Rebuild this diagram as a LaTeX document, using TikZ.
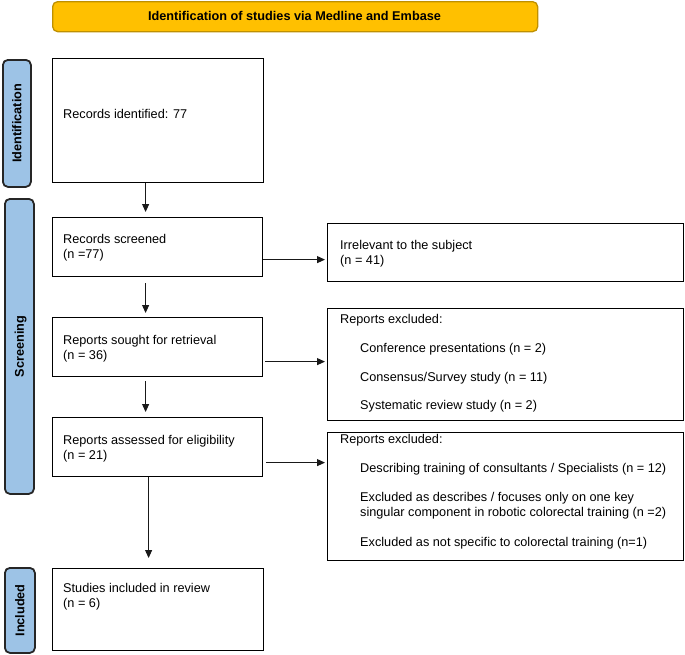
\documentclass[tikz,border=0pt]{standalone}
\usepackage{fontspec}
\setmainfont{Liberation Sans}
\usetikzlibrary{arrows.meta}
\definecolor{hdrfill}{HTML}{FFC000}
\definecolor{hdrline}{HTML}{BF9000}
\definecolor{lblfill}{HTML}{9DC3E6}
\definecolor{lblline}{HTML}{262626}
\newcommand\myfs{\fontsize{12.7}{14.5}\selectfont}
\begin{document}
\begin{tikzpicture}[x=1pt,y=-1pt,
  box/.style={draw=black, line width=1.2pt, fill=white, inner sep=0pt, anchor=north west},
  hdr/.style={draw=hdrline, line width=1.3pt, fill=hdrfill, rounded corners=5pt, inner sep=0pt, anchor=north west},
  lbl/.style={draw=lblline, line width=1.8pt, fill=lblfill, rounded corners=5pt, inner sep=0pt, anchor=north west},
  lbltxt/.style={rotate=90, font=\myfs\bfseries, inner sep=0pt, text height=9pt, text depth=0pt, anchor=center},
  txt/.style={anchor=base west, inner sep=0pt, font=\myfs},
  arr/.style={draw=black!90, line width=1pt, -{Triangle[length=8pt,width=7pt]}}
]
\useasboundingbox (0,0) rectangle (685,654);

% header
\node[hdr, minimum width=485pt, minimum height=30pt] (hdr) at (52,1) {};
\node[font=\myfs\bfseries, inner sep=0pt] (hdrtxt) at (294.5,15.8) {Identification of studies via Medline and Embase};

% side labels
\node[lbl, minimum width=28pt, minimum height=127pt] (idl) at (2,59) {};
\node[lbltxt] (idltxt) at (idl.center) {Identification};
\node[lbl, minimum width=29pt, minimum height=295pt] (scl) at (4,198) {};
\node[lbltxt] (scltxt) at (scl.center) {Screening};
\node[lbl, minimum width=30pt, minimum height=85pt] (inl) at (4,567) {};
\node[lbltxt] (inltxt) at (inl.center) {Included};

% boxes
\node[box, minimum width=211pt, minimum height=124pt] (rid) at (52,58) {};
\node[box, minimum width=210pt, minimum height=59pt] (rs) at (52,217) {};
\node[box, minimum width=356pt, minimum height=58pt] (irr) at (327,223) {};
\node[box, minimum width=210pt, minimum height=59pt] (rsr) at (52,317) {};
\node[box, minimum width=356pt, minimum height=112pt] (ex1) at (327,308) {};
\node[box, minimum width=210pt, minimum height=59pt] (rae) at (52,417) {};
\node[box, minimum width=356pt, minimum height=128pt] (ex2) at (327,432) {};
\node[box, minimum width=211pt, minimum height=82pt] (inc) at (52,568) {};

% texts
\node[txt] (t1) at (63,118) {Records identified: 77};
\node[txt] (t2a) at (63,243.5) {Records screened};
\node[txt] (t2b) at (63,258) {(n =77)};
\node[txt] (t3a) at (340,249.5) {Irrelevant to the subject};
\node[txt] (t3b) at (340,264) {(n = 41)};
\node[txt] (t4a) at (63,344.5) {Reports sought for retrieval};
\node[txt] (t4b) at (63,359) {(n = 36)};
\node[txt] (t5a) at (340,323.5) {Reports excluded:};
\node[txt] (t5b) at (360,352.3) {Conference presentations (n = 2)};
\node[txt] (t5c) at (360,381) {Consensus/Survey study (n = 11)};
\node[txt] (t5d) at (360,409) {Systematic review study (n = 2)};
\node[txt] (t6a) at (63,444.5) {Reports assessed for eligibility};
\node[txt] (t6b) at (63,459) {(n = 21)};
\node[txt] (t7a) at (340,443.6) {Reports excluded:};
\node[txt] (t7b) at (360,472.6) {Describing training of consultants / Specialists (n = 12)};
\node[txt] (t7c) at (360,501.6) {Excluded as describes / focuses only on one key};
\node[txt] (t7d) at (360,516.4) {singular component in robotic colorectal training (n =2)};
\node[txt] (t7e) at (360,546) {Excluded as not specific to colorectal training (n=1)};
\node[txt] (t8a) at (63,592.5) {Studies included in review};
\node[txt] (t8b) at (63,607) {(n = 6)};

% connectors
\draw[arr] ([xshift=-12.5pt]rid.south) -- ([xshift=-12pt,yshift=5pt]rs.north);
\draw[arr] ([xshift=-12pt,yshift=-6pt]rs.south) -- ([xshift=-12pt,yshift=4pt]rsr.north);
\draw[arr] ([xshift=-12pt,yshift=-4pt]rsr.south) -- ([xshift=-12pt,yshift=5pt]rae.north);
\draw[arr] ([xshift=-9pt]rae.south) -- ([xshift=-9.5pt,yshift=10pt]inc.north);
\draw[arr] ([yshift=-12.5pt]rs.east) -- ([xshift=-2pt,yshift=-7pt]irr.west);
\draw[arr] ([xshift=2pt,yshift=-14.5pt]rsr.east) -- ([xshift=-2pt,yshift=3pt]ex1.west);
\draw[arr] ([xshift=3pt,yshift=-15.5pt]rae.east) -- ([xshift=-2pt,yshift=34pt]ex2.west);
\end{tikzpicture}
\end{document}
